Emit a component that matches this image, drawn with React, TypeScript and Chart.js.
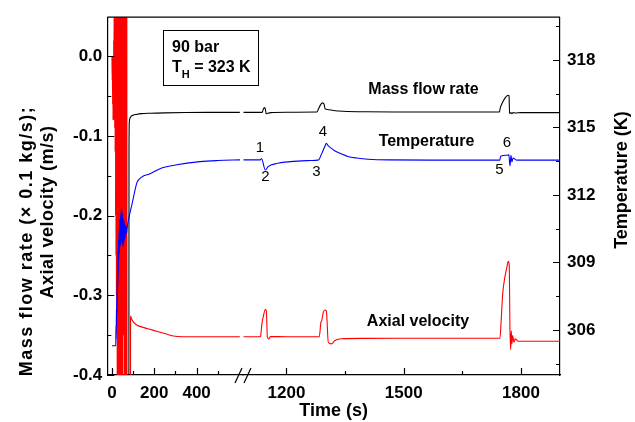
import React, { useEffect, useRef } from 'react';
import { Chart, registerables } from 'chart.js';

Chart.register(...registerables);

// ---------- Data (time in s) ----------
// Mass flow rate (x 0.1 kg/s), left axis
const massTimeEarly = [80, 80.5, 82, 85, 90, 100, 115, 140, 180, 250, 350, 450, 604];
const massEarly = [-0.45, -0.12, -0.082, -0.078, -0.0755, -0.074, -0.073, -0.072, -0.0715, -0.071, -0.0706, -0.0704, -0.0704];
const massTimeLate = [1090, 1138, 1141, 1144, 1146, 1148, 1152, 1160, 1200, 1278, 1282, 1287, 1292, 1296, 1299, 1305, 1320, 1345, 1400, 1500, 1745, 1747, 1751, 1759, 1767, 1769.5, 1771, 1774, 1777, 1780, 1785, 1800, 1900];
const massLate = [-0.0704, -0.0704, -0.066, -0.0645, -0.0668, -0.0722, -0.0716, -0.0708, -0.0702, -0.0700, -0.066, -0.061, -0.0585, -0.060, -0.066, -0.0668, -0.068, -0.069, -0.0697, -0.0699, -0.0699, -0.065, -0.060, -0.0525, -0.049, -0.0495, -0.072, -0.0705, -0.072, -0.0708, -0.0712, -0.0707, -0.0707];

// Temperature (K), right axis
const tempTimeEarly = [0, 18, 19, 20, 21, 22, 23, 24, 25, 26, 27, 28, 29, 30, 31, 32, 34, 35, 37, 38, 40, 41, 43, 44, 46, 47, 49, 50, 52, 53, 55, 56, 58, 59, 61, 62, 64, 65, 67, 69, 71, 95, 118, 130, 150, 180, 227, 300, 416, 500, 605];
const tempEarly = [305.3, 305.3, 306.2, 305.6, 306.9, 306.2, 307.6, 306.8, 308.3, 307.4, 308.9, 308.0, 309.5, 308.6, 310.0, 309.1, 310.5, 309.4, 310.9, 309.7, 311.1, 309.8, 311.3, 309.9, 311.4, 310.0, 311.2, 309.8, 311.0, 309.7, 310.9, 309.9, 310.8, 310.0, 310.7, 310.1, 310.6, 310.2, 310.6, 310.3, 310.5, 311.6, 312.55, 312.72, 312.85, 312.94, 313.17, 313.33, 313.48, 313.53, 313.56];
const tempTimeLate = [1090, 1133, 1136, 1146, 1153, 1175, 1210, 1260, 1280, 1283, 1288, 1293, 1298, 1302, 1306, 1314, 1322, 1340, 1357, 1380, 1409, 1460, 1600, 1746, 1748, 1767.5, 1769, 1772, 1774.5, 1777, 1780, 1789, 1900];
const tempLate = [313.56, 313.56, 313.62, 313.11, 313.26, 313.40, 313.48, 313.53, 313.55, 313.57, 313.75, 313.95, 314.15, 314.3, 314.2, 314.08, 313.98, 313.83, 313.71, 313.64, 313.59, 313.56, 313.55, 313.55, 313.72, 313.77, 313.80, 313.29, 313.76, 313.47, 313.64, 313.55, 313.55];

// Axial velocity (m/s), left axis
const velTimeEarly = [0, 1, 2, 3, 4, 5, 6, 7, 8, 9, 10, 11, 12, 13, 14, 15, 16, 17, 18, 19, 20, 21, 22, 23, 24, 25, 26, 27, 28, 29, 30, 31, 32, 33, 34, 35, 36, 37, 38, 39, 40, 41, 42, 43, 44, 45, 46, 47, 48, 49, 50, 51, 52, 53, 54, 55, 56, 57, 58, 59, 60, 61, 62, 63, 64, 65, 66, 67, 68, 69, 70, 71, 87, 88, 92, 100, 115, 132, 170, 210, 250, 290, 330, 604];
const velEarly = [0.0, -0.03, 0.0, -0.06, -0.01, -0.08, 0.0, -0.07, 0.02, -0.08, 0.06, -0.07, 0.1, -0.09, 0.2, -0.12, 0.25, -0.2, 0.3, -0.25, 0.3, -0.3, 0.35, -0.35, 0.4, -0.6, 0.4, -0.7, 0.45, -0.7, 0.4, -0.75, 0.45, -0.8, 0.5, -0.8, 0.45, -0.8, 0.5, -0.85, 0.5, -0.8, 0.45, -0.85, 0.5, -0.8, 0.45, -0.8, 0.5, -0.75, 0.45, -0.7, 0.4, -0.3, 0.4, -0.35, 0.4, -0.3, 0.45, -0.6, 0.5, -0.75, 0.5, -0.8, 0.5, -0.8, 0.45, -0.8, 0.5, -0.75, 0.4, -0.7, -0.7, -0.326, -0.329, -0.333, -0.337, -0.339, -0.342, -0.345, -0.348, -0.351, -0.352, -0.352];
const velTimeLate = [1090, 1133, 1134, 1137.5, 1140, 1146, 1148.5, 1151, 1155, 1159, 1200, 1284, 1288, 1290, 1294, 1298, 1302, 1307, 1315, 1324, 1340, 1400, 1500, 1745, 1746.3, 1748.9, 1753.2, 1759.1, 1763.5, 1767.6, 1770.1, 1771.9, 1773.7, 1775.3, 1777, 1778.8, 1782.2, 1785.5, 1793, 1900];
const velLate = [-0.352, -0.352, -0.3506, -0.3342, -0.328, -0.3177, -0.3198, -0.3518, -0.3547, -0.3518, -0.352, -0.352, -0.334, -0.332, -0.3218, -0.3185, -0.3198, -0.3589, -0.3609, -0.3568, -0.3545, -0.354, -0.3539, -0.3539, -0.3539, -0.3362, -0.2991, -0.2765, -0.2663, -0.2572, -0.2621, -0.3404, -0.3683, -0.3444, -0.3609, -0.3506, -0.3589, -0.3547, -0.3577, -0.3577];

// Tick labels
const earlyTimeLabels = [0, 200, 400];
const lateTimeLabels = [1200, 1500, 1800];
const leftAxisLabels = ['-0.4', '-0.3', '-0.2', '-0.1', '0.0'];
const rightAxisLabels = [306, 309, 312, 315, 318];

const FONT = '"Liberation Sans", Arial, Helvetica, sans-serif';
Chart.defaults.font.family = FONT;

const pts = (xs: number[], ys: number[]) => xs.map((x, i) => ({ x, y: ys[i] }));

const overlay = {
  id: 'overlay',
  afterDraw(chart: any) {
    const ctx = chart.ctx as CanvasRenderingContext2D;
    const a = chart.chartArea;
    const sx = chart.scales.x, sx2 = chart.scales.x2, sy = chart.scales.y, sT = chart.scales.yT;
    ctx.save();
    ctx.strokeStyle = '#000';
    ctx.lineWidth = 1.2;
    // top frame line
    ctx.beginPath();
    ctx.moveTo(a.left, a.top);
    ctx.lineTo(a.right, a.top);
    ctx.stroke();
    // inward ticks
    const major = 7, minor = 4;
    ctx.beginPath();
    for (const s of [sx, sx2]) {
      for (const t of s.ticks) {
        const p = Math.round(s.getPixelForValue(t.value)) + 0.5;
        const len = t.label ? major : minor;
        ctx.moveTo(p, a.bottom);
        ctx.lineTo(p, a.bottom - len);
      }
    }
    for (const t of sy.ticks) {
      const p = Math.round(sy.getPixelForValue(t.value)) + 0.5;
      const len = t.label ? major : minor;
      ctx.moveTo(a.left, p);
      ctx.lineTo(a.left + len, p);
    }
    for (const t of sT.ticks) {
      const p = Math.round(sT.getPixelForValue(t.value)) + 0.5;
      const len = t.label ? major : minor;
      ctx.moveTo(a.right, p);
      ctx.lineTo(a.right - len, p);
    }
    ctx.stroke();
    // axis break marks
    const jx = sx.right;
    ctx.beginPath();
    ctx.moveTo(jx - 8, a.bottom + 8);
    ctx.lineTo(jx - 1, a.bottom - 7);
    ctx.moveTo(jx + 1, a.bottom + 8);
    ctx.lineTo(jx + 8, a.bottom - 7);
    ctx.stroke();

    // info box
    ctx.lineWidth = 1;
    ctx.strokeRect(163.5, 30.5, 95, 55);
    ctx.fillStyle = '#000';
    ctx.textBaseline = 'alphabetic';
    ctx.textAlign = 'left';
    ctx.font = `bold 16px ${FONT}`;
    ctx.fillText('90 bar', 172, 52);
    ctx.fillText('T', 172, 72);
    const tw = ctx.measureText('T').width;
    ctx.font = `bold 11px ${FONT}`;
    ctx.fillText('H', 172 + tw, 78);
    const hw = ctx.measureText('H').width;
    ctx.font = `bold 16px ${FONT}`;
    ctx.fillText(' = 323 K', 172 + tw + hw, 72);

    // curve labels
    ctx.textAlign = 'center';
    ctx.textBaseline = 'middle';
    ctx.font = `bold 16px ${FONT}`;
    ctx.fillText('Mass flow rate', 423.5, 90);
    ctx.fillText('Temperature', 426.5, 142);
    ctx.fillText('Axial velocity', 418, 322);
    ctx.font = `15px ${FONT}`;
    const nums: [string, number, number][] = [['1', 260, 148], ['2', 265.5, 177], ['3', 316.5, 172], ['4', 323, 132], ['5', 499.5, 170], ['6', 507, 143]];
    for (const [s, x, y] of nums) ctx.fillText(s, x, y);

    // axis titles
    ctx.font = `bold 18px ${FONT}`;
    ctx.fillText('Time (s)', (a.left + a.right) / 2, 411);
    const vtext = (s: string, x: number, y: number, spacing = '0px') => {
      ctx.save();
      ctx.translate(x, y);
      ctx.rotate(-Math.PI / 2);
      (ctx as any).letterSpacing = spacing;
      ctx.fillText(s, 0, 0);
      ctx.restore();
    };
    vtext('Mass flow rate (\u00D7 0.1 kg/s);', 27, 241, '1.5px');
    vtext('Axial velocity (m/s)', 48, 212, '0.5px');
    vtext('Temperature (K)', 622, 180);
    ctx.restore();
  },
};

const tickFont = { family: FONT, size: 17, weight: 'bold' as const };

export default function App() {
  const ref = useRef<HTMLCanvasElement>(null);
  useEffect(() => {
    const canvas = ref.current;
    if (!canvas) return;
    const line = (data: any, color: string, xAxisID: string, yAxisID: string) => ({
      data,
      borderColor: color,
      backgroundColor: color,
      borderWidth: 1.1,
      pointRadius: 0,
      fill: false,
      cubicInterpolationMode: 'monotone' as const,
      xAxisID,
      yAxisID,
    });
    const grid = { display: false, drawTicks: false };
    const border = { display: true, color: '#000', width: 1.2 };
    const chart = new Chart(canvas, {
      type: 'line',
      data: {
        datasets: [
          line(pts(tempTimeEarly, tempEarly), '#0000ff', 'x', 'yT'),
          line(pts(tempTimeLate, tempLate), '#0000ff', 'x2', 'yT'),
          line(pts(massTimeEarly, massEarly), '#000000', 'x', 'y'),
          line(pts(massTimeLate, massLate), '#000000', 'x2', 'y'),
          line(pts(velTimeEarly, velEarly), '#ff0000', 'x', 'y'),
          line(pts(velTimeLate, velLate), '#ff0000', 'x2', 'y'),
        ],
      },
      options: {
        responsive: false,
        animation: false,
        events: [],
        layout: { padding: { top: 12, left: 0, right: 0, bottom: 0 } },
        plugins: { legend: { display: false }, tooltip: { enabled: false } },
        scales: {
          x: {
            type: 'linear',
            position: 'bottom',
            stack: 'time',
            stackWeight: 135.7,
            min: -22,
            max: 619,
            afterBuildTicks: (s: any) => {
              s.ticks = s.ticks.filter((t: any) => t.value <= 550);
            },
            afterFit: (s: any) => {
              s.height = 47;
            },
            grid,
            border,
            ticks: {
              stepSize: 100,
              includeBounds: false,
              autoSkip: false,
              maxRotation: 0,
              padding: 8,
              color: '#000',
              font: tickFont,
              callback: (v: any) => (earlyTimeLabels.includes(Number(v)) ? String(v) : ''),
            },
          },
          x2: {
            type: 'linear',
            position: 'bottom',
            stack: 'time',
            stackWeight: 317,
            min: 1088.7,
            max: 1900,
            afterFit: (s: any) => {
              s.height = 47;
            },
            grid,
            border,
            ticks: {
              stepSize: 150,
              includeBounds: false,
              autoSkip: false,
              maxRotation: 0,
              padding: 8,
              color: '#000',
              font: tickFont,
              callback: (v: any) => (lateTimeLabels.includes(Number(v)) ? String(v) : ''),
            },
          },
          y: {
            type: 'linear',
            position: 'left',
            min: -0.4,
            max: 0.049,
            afterFit: (s: any) => {
              s.width = 107.3;
            },
            grid,
            border,
            ticks: {
              stepSize: 0.05,
              includeBounds: false,
              autoSkip: false,
              padding: 5,
              color: '#000',
              font: tickFont,
              callback: (v: any) => {
                const s = (Math.round(Number(v) * 100) / 100).toFixed(1);
                return Math.round(Number(v) * 100) % 10 === 0 && leftAxisLabels.includes(s) ? s : '';
              },
            },
          },
          yT: {
            type: 'linear',
            position: 'right',
            min: 304,
            max: 319.9,
            afterFit: (s: any) => {
              s.width = 75;
            },
            grid,
            border,
            ticks: {
              stepSize: 1.5,
              includeBounds: false,
              autoSkip: false,
              padding: 7,
              color: '#000',
              font: tickFont,
              callback: (v: any) => (rightAxisLabels.includes(Number(v)) ? String(v) : ''),
            },
          },
        },
      },
      plugins: [overlay],
    } as any);
    return () => chart.destroy();
  }, []);
  return (
    <div style={{ position: 'fixed', left: 0, top: 0, width: 635, height: 422, background: '#fff' }}>
      <canvas ref={ref} width={635} height={422} style={{ display: 'block', width: 635, height: 422 }} />
    </div>
  );
}
